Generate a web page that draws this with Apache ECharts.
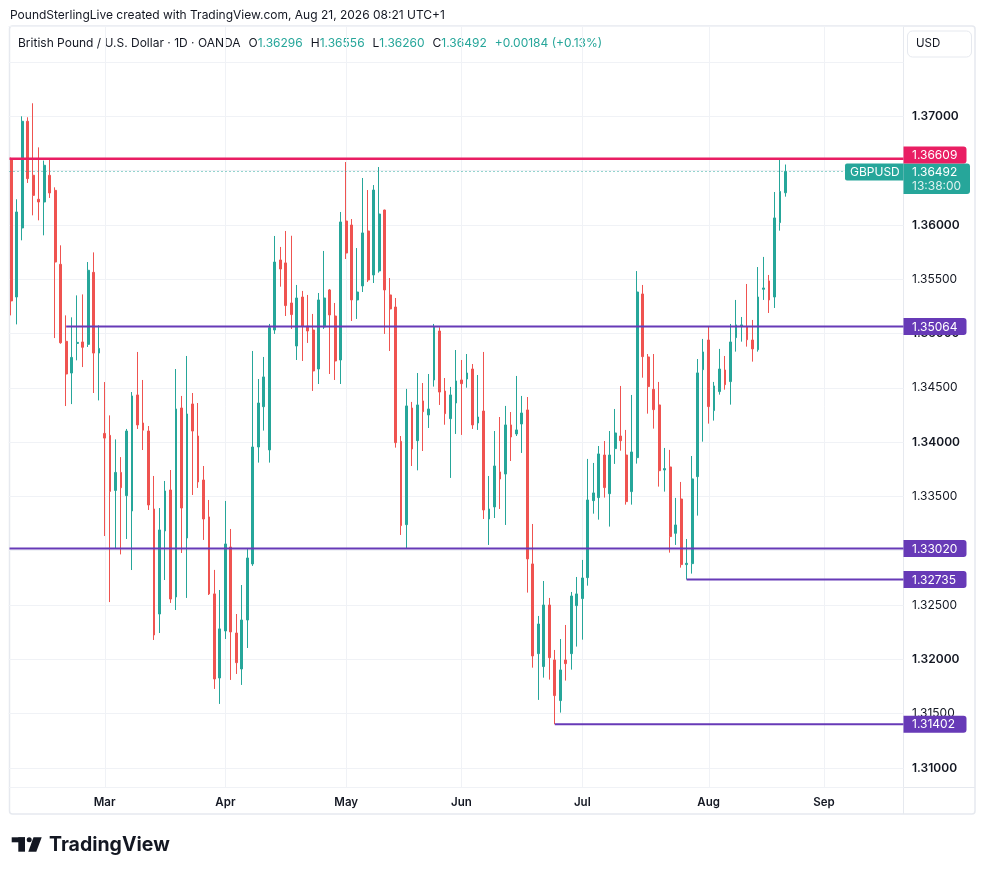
<!DOCTYPE html>
<html><head><meta charset="utf-8">
<script src="https://cdn.jsdelivr.net/npm/echarts@6/dist/echarts.min.js"></script>
<style>html,body{margin:0;padding:0;background:#fff}#c{width:985px;height:875px}</style>
</head><body><div id="c"></div>
<script>
// ---------------- data ----------------
const FIRST_DAY = '2026-02-05';   // first candle
const AXIS_DAYS = 163;            // trading days on the time axis (incl. empty future)
const OPENS = [1.36610,1.35336,1.35972,1.36954,1.36457,1.36236,1.36211,1.36457,1.36318,1.35637,
1.34928,1.34636,1.34909,1.34922,1.34900,1.35563,1.34820,1.34080,1.34062,1.33555,
1.33721,1.33507,1.33366,1.34434,1.34176,1.34102,1.33384,1.32417,1.33182,1.33559,
1.32574,1.34314,1.33117,1.34351,1.34056,1.33651,1.33311,1.32602,1.31828,1.32261,
1.33034,1.32242,1.31911,1.32362,1.32878,1.33955,1.34326,1.33928,1.35032,1.35677,
1.35650,1.35281,1.34885,1.35336,1.35069,1.35032,1.34673,1.35060,1.35401,1.35161,
1.34756,1.36036,1.35999,1.35309,1.35438,1.35944,1.35539,1.35576,1.36137,1.35355,
1.35244,1.34007,1.33240,1.34314,1.34013,1.34379,1.34250,1.34572,1.35023,1.34470,
1.34216,1.34360,1.34572,1.34581,1.34673,1.34176,1.34286,1.33292,1.33403,1.33725,
1.33706,1.34158,1.34075,1.34167,1.34296,1.32878,1.32052,1.31933,1.32500,1.31994,
1.31620,1.31994,1.32052,1.32494,1.32559,1.32752,1.33461,1.33489,1.33881,1.33525,
1.33940,1.34056,1.33881,1.33544,1.33857,1.35364,1.34784,1.34486,1.34342,1.33743,
1.33771,1.33160,1.33476,1.32872,1.32881,1.33682,1.34667,1.34940,1.34290,1.34465,
1.34664,1.34557,1.34962,1.35063,1.35063,1.34940,1.34851,1.35407,1.35484,1.35336,
1.36021,1.36296];
const CLOSES = [1.35300,1.36119,1.36954,1.36426,1.36272,1.36211,1.36549,1.36294,1.35658,1.34915,
1.34627,1.34780,1.34918,1.34873,1.35582,1.34820,1.34863,1.34037,1.33546,1.33721,
1.33580,1.34102,1.34425,1.34158,1.34110,1.33421,1.32224,1.33191,1.33550,1.32555,
1.34305,1.33393,1.34259,1.34102,1.33633,1.33292,1.32602,1.31819,1.32280,1.33062,
1.32252,1.31969,1.32362,1.32933,1.33955,1.34360,1.34600,1.35054,1.35658,1.35594,
1.35257,1.35174,1.35327,1.35069,1.35023,1.34655,1.35309,1.35327,1.35171,1.34747,
1.36027,1.35741,1.35309,1.35382,1.35926,1.35493,1.36321,1.36100,1.35401,1.35226,
1.33995,1.33231,1.34333,1.33937,1.34342,1.34280,1.34305,1.35063,1.34461,1.34262,
1.34434,1.34563,1.34538,1.34636,1.34158,1.34231,1.33375,1.33384,1.33780,1.33660,
1.34158,1.34047,1.34112,1.34268,1.32924,1.32031,1.32325,1.32500,1.32015,1.31666,
1.31902,1.31960,1.32583,1.32602,1.32749,1.33467,1.33532,1.33891,1.33581,1.33881,
1.34084,1.34013,1.33452,1.33909,1.35382,1.34787,1.34511,1.34299,1.33737,1.33756,
1.33130,1.33237,1.32872,1.32884,1.33661,1.34637,1.34830,1.34327,1.34517,1.34673,
1.34529,1.34922,1.35079,1.35079,1.34943,1.34858,1.35336,1.35419,1.35309,1.36064,
1.36308,1.36492];
const LOWS = [1.35167,1.35084,1.35858,1.36386,1.36088,1.36042,1.35904,1.36248,1.34958,1.34906,
1.34332,1.34350,1.34753,1.34691,1.34876,1.34452,1.34384,1.33135,1.32527,1.33018,
1.32966,1.33108,1.32822,1.34121,1.33927,1.33375,1.32178,1.32242,1.32730,1.32519,
1.32454,1.32979,1.32565,1.33513,1.33578,1.33099,1.32592,1.31727,1.31589,1.32187,
1.31810,1.31865,1.31764,1.32104,1.32860,1.33811,1.34106,1.33811,1.34996,1.35431,
1.35161,1.35042,1.34756,1.34747,1.34913,1.34471,1.34535,1.35042,1.34627,1.34572,
1.34535,1.35686,1.35115,1.35134,1.35382,1.35474,1.35465,1.35560,1.34996,1.34839,
1.33949,1.33145,1.33016,1.33780,1.33740,1.33918,1.34130,1.34511,1.34342,1.34160,
1.33670,1.34075,1.34066,1.34501,1.34121,1.34112,1.33292,1.33053,1.33301,1.33384,
1.33237,1.33826,1.34056,1.33900,1.32614,1.31923,1.31626,1.31831,1.31813,1.31402,
1.31509,1.31804,1.31905,1.32117,1.32181,1.32678,1.33341,1.33286,1.33489,1.33222,
1.33799,1.33921,1.33424,1.33424,1.33802,1.34593,1.34262,1.34124,1.33590,1.33544,
1.32982,1.33053,1.32844,1.32735,1.32789,1.33323,1.34004,1.34170,1.34198,1.34437,
1.34483,1.34345,1.34833,1.34925,1.34879,1.34741,1.34833,1.35309,1.35189,1.35235,
1.35947,1.36260];
const HIGHS = [1.36620,1.36236,1.37000,1.36991,1.37120,1.36714,1.36592,1.36609,1.36346,1.35812,
1.35167,1.35149,1.35351,1.35360,1.35658,1.35747,1.35075,1.34553,1.34246,1.34025,
1.33862,1.34121,1.34461,1.34830,1.34572,1.34148,1.33688,1.33393,1.33642,1.33743,
1.34673,1.34425,1.34793,1.34452,1.34360,1.33780,1.33467,1.32823,1.32638,1.33458,
1.33200,1.32417,1.32684,1.33016,1.34839,1.34581,1.34784,1.35088,1.35898,1.35797,
1.35944,1.35900,1.35447,1.35392,1.35355,1.35180,1.35373,1.35760,1.35410,1.35281,
1.36119,1.36579,1.36054,1.35787,1.36432,1.36321,1.36367,1.36533,1.36140,1.35511,
1.35327,1.34056,1.34490,1.34370,1.34636,1.34544,1.34627,1.35088,1.35057,1.34590,
1.34508,1.34848,1.34756,1.34811,1.34719,1.34618,1.34830,1.33688,1.34102,1.34231,
1.34333,1.34277,1.34609,1.34425,1.34415,1.33246,1.32399,1.32721,1.32565,1.32086,
1.32187,1.32316,1.32620,1.32758,1.32915,1.33845,1.33808,1.33964,1.34010,1.34102,
1.34305,1.34517,1.34112,1.34434,1.35575,1.35447,1.34811,1.34811,1.34554,1.33946,
1.33928,1.33486,1.33633,1.33108,1.33872,1.34765,1.34950,1.35060,1.34554,1.34858,
1.34793,1.35088,1.35309,1.35152,1.35456,1.35125,1.35612,1.35705,1.35539,1.36303,
1.36598,1.36556];
const LEVELS = [1.36609, 1.35064, 1.33020, 1.32735, 1.31402];
const LEVEL_FROM = ['2026-02-05','2026-02-19','2026-02-05','2026-07-28','2026-06-24'];
const Y_MIN = 1.308195, Y_MAX = 1.378315, Y_STEP = 0.005;
const MONTHS = ['Jan','Feb','Mar','Apr','May','Jun','Jul','Aug','Sep','Oct','Nov','Dec'];
const HEADER = 'PoundSterlingLive created with TradingView.com, Aug 21, 2026 08:21 UTC+1';
const INSTRUMENT = 'British Pound / U.S. Dollar · 1D · OANDA';
const SYMBOL = 'GBPUSD';
const COUNTDOWN = '13:38:00';
const CURRENCY = 'USD';

// ---------------- helpers ----------------
function tradingDays(first, n) {
  const out = []; const d = new Date(first + 'T00:00:00Z');
  while (out.length < n) {
    const w = d.getUTCDay();
    if (w !== 0 && w !== 6) out.push(d.toISOString().slice(0, 10));
    d.setUTCDate(d.getUTCDate() + 1);
  }
  return out;
}
const DATES = tradingDays(FIRST_DAY, AXIS_DAYS);
const MONTH_STARTS = [];
for (let i = 1; i < DATES.length; i++) if (DATES[i].slice(5, 7) !== DATES[i - 1].slice(5, 7)) MONTH_STARTS.push(i);
const MS_SET = new Set(MONTH_STARTS);
const CANDLES = OPENS.map((o, i) => [o, CLOSES[i], LOWS[i], HIGHS[i]]);
const LAST = OPENS.length - 1;
const LAST_CLOSE = CLOSES[LAST];

const FONT = 'Inter';
const INK = '#131722', UP = '#26a69a', DOWN = '#ef5350', RED = '#e91e63', PURPLE = '#673ab7';
const GRIDC = '#f0f2f6', FRAMEC = '#e6e9ef';
const FRAME_L = 9.5, FRAME_R = 975, FRAME_T = 26, FRAME_B = 814;

const chg = LAST_CLOSE - CLOSES[LAST - 1];
const sign = chg >= 0 ? '+' : '-';
const legendRich = '{d|' + INSTRUMENT + '}{sp|}' +
  '{d|O}{g|' + OPENS[LAST].toFixed(5) + '}{sp|}' +
  '{d|H}{g|' + HIGHS[LAST].toFixed(5) + '}{sp|}' +
  '{d|L}{g|' + LOWS[LAST].toFixed(5) + '}{sp|}' +
  '{d|C}{g|' + LAST_CLOSE.toFixed(5) + '}{sp|}' +
  '{g|' + sign + Math.abs(chg).toFixed(5) + ' (' + sign + (Math.abs(chg) / CLOSES[LAST - 1] * 100).toFixed(2) + '%)}';

const chart = echarts.init(document.getElementById('c'), null, { renderer: 'canvas', width: 985, height: 875 });

function lastBox(api) {
  const y = api.coord([LAST, LAST_CLOSE])[1];
  return { y: y, top: y - 8, bottom: y + 22.5 };
}

chart.setOption({
  animation: false,
  backgroundColor: '#ffffff',
  grid: { left: 8.5, top: FRAME_T, width: 895, height: 787.5 - FRAME_T, containLabel: false, outerBoundsMode: 'none' },
  xAxis: {
    type: 'category', data: DATES, boundaryGap: true,
    axisLine: { show: false }, axisTick: { show: false }, splitLine: { show: false },
    axisLabel: {
      interval: (i) => MS_SET.has(i),
      formatter: (v) => MONTHS[parseInt(v.slice(5, 7), 10) - 1],
      margin: 9, fontSize: 11.5, fontWeight: 600, color: INK, fontFamily: FONT
    }
  },
  yAxis: {
    type: 'value', position: 'right', min: Y_MIN, max: Y_MAX,
    minInterval: Y_STEP, maxInterval: Y_STEP, splitNumber: 14, scale: true,
    axisLine: { show: false }, axisTick: { show: false },
    splitLine: { lineStyle: { color: GRIDC, width: 1 } },
    axisLabel: {
      margin: 8.5, showMinLabel: false, showMaxLabel: false, align: 'left',
      formatter: (v) => {
        if (v > 1.372) return '';
        const major = Math.abs(Math.round(v * 100) - v * 100) < 1e-6;
        return (major ? '{b|' : '{n|') + v.toFixed(5) + '}';
      },
      rich: {
        b: { fontSize: 12, fontWeight: 600, color: INK, fontFamily: FONT },
        n: { fontSize: 12, fontWeight: 400, color: INK, fontFamily: FONT }
      }
    }
  },
  series: [
    { // month grid lines
      type: 'custom', z: 1, silent: true,
      data: MONTH_STARTS.map(i => [i, Y_MIN]),
      renderItem: (params, api) => {
        const cs = params.coordSys;
        const x = Math.round(api.coord([api.value(0), api.value(1)])[0]) + 0.5;
        return { type: 'line', shape: { x1: x, y1: cs.y, x2: x, y2: cs.y + cs.height }, style: { stroke: GRIDC, lineWidth: 1 } };
      }
    },
    {
      type: 'candlestick', z: 2, barWidth: 2.3,
      data: CANDLES,
      itemStyle: { color: UP, color0: DOWN, borderColor: UP, borderColor0: DOWN, borderWidth: 1 }
    },
    { // last price line + labels
      type: 'custom', z: 3, silent: true,
      data: [[LAST, LAST_CLOSE]],
      renderItem: (params, api) => {
        const cs = params.coordSys; const right = cs.x + cs.width;
        const lb = lastBox(api);
        return { type: 'group', children: [
          { type: 'line', shape: { x1: FRAME_L, y1: lb.y, x2: right, y2: lb.y }, style: { stroke: UP, lineWidth: 1, lineDash: [1, 3] } },
          { type: 'rect', shape: { x: 845, y: lb.top, width: right - 845, height: 17, r: [2, 0, 0, 2] }, style: { fill: UP } },
          { type: 'text', x: 850, y: lb.top + 8.5, style: { text: SYMBOL, fill: '#fff', fontSize: 12, fontFamily: FONT, align: 'left', verticalAlign: 'middle' } },
          { type: 'rect', shape: { x: right, y: lb.top, width: 66.5, height: lb.bottom - lb.top, r: [0, 3, 3, 0] }, style: { fill: UP } },
          { type: 'text', x: right + 8.5, y: lb.y + 0.5, style: { text: LAST_CLOSE.toFixed(5), fill: '#fff', fontSize: 12, fontFamily: FONT, align: 'left', verticalAlign: 'middle' } },
          { type: 'text', x: right + 8.5, y: lb.y + 15, style: { text: COUNTDOWN, fill: 'rgba(255,255,255,0.85)', fontSize: 12, fontFamily: FONT, align: 'left', verticalAlign: 'middle' } }
        ] };
      }
    },
    { // support / resistance levels
      type: 'custom', z: 4, silent: true,
      data: LEVELS.map((v, k) => [LEVEL_FROM[k], v, k]),
      renderItem: (params, api) => {
        const cs = params.coordSys; const right = cs.x + cs.width;
        const k = api.value(2);
        const p = api.coord([api.value(0), api.value(1)]);
        const x0 = api.value(0) === 0 ? FRAME_L : p[0];
        const color = k === 0 ? RED : PURPLE;
        const lb = lastBox(api);
        let by = p[1] - 8.5;
        if (by + 17 > lb.top && by < lb.bottom) by = lb.top - 17;
        return { type: 'group', children: [
          { type: 'line', shape: { x1: x0, y1: p[1], x2: right, y2: p[1] }, style: { stroke: color, lineWidth: k === 0 ? 2.5 : 2 } },
          { type: 'rect', shape: { x: right, y: by, width: 63, height: 17, r: [0, 3, 3, 0] }, style: { fill: color } },
          { type: 'text', x: right + 8.5, y: by + 9, style: { text: LEVELS[k].toFixed(5), fill: '#fff', fontSize: 12, fontFamily: FONT, align: 'left', verticalAlign: 'middle' } }
        ] };
      }
    }
  ],
  graphic: [
    { type: 'rect', z: 0, silent: true, shape: { x: FRAME_L, y: FRAME_T, width: FRAME_R - FRAME_L, height: FRAME_B - FRAME_T, r: 3 }, style: { fill: 'none', stroke: FRAMEC, lineWidth: 1.5 } },
    { type: 'line', z: 0, silent: true, shape: { x1: 903.5, y1: FRAME_T, x2: 903.5, y2: FRAME_B }, style: { stroke: FRAMEC, lineWidth: 1 } },
    { type: 'line', z: 0, silent: true, shape: { x1: FRAME_L, y1: 787.5, x2: FRAME_R, y2: 787.5 }, style: { stroke: FRAMEC, lineWidth: 1 } },
    { type: 'text', x: 10, y: 15.5, style: { text: HEADER, fill: INK, fontSize: 12, fontFamily: FONT, verticalAlign: 'middle' } },
    { type: 'text', x: 18, y: 43, style: { text: legendRich, verticalAlign: 'middle',
        rich: {
          d: { fill: INK, color: INK, fontSize: 12, fontFamily: FONT },
          g: { fill: UP, color: UP, fontSize: 12, fontFamily: FONT },
          sp: { width: 8 }
        } } },
    { type: 'rect', silent: true, shape: { x: 907.5, y: 31, width: 64, height: 26, r: 5 }, style: { fill: '#fff', stroke: FRAMEC, lineWidth: 1 } },
    { type: 'text', x: 916, y: 44, style: { text: CURRENCY, fill: INK, fontSize: 11.5, fontFamily: FONT, verticalAlign: 'middle' } },
    // TradingView logo
    { type: 'rect', shape: { x: 11.7, y: 837.3, width: 13.3, height: 5 }, style: { fill: INK } },
    { type: 'rect', shape: { x: 18.3, y: 837.3, width: 6.7, height: 14.4 }, style: { fill: INK } },
    { type: 'circle', shape: { cx: 29.2, cy: 839.8, r: 2.5 }, style: { fill: INK } },
    { type: 'polygon', shape: { points: [[33.5, 837.3], [41.7, 837.3], [36.3, 851.7], [28.3, 851.7]] }, style: { fill: INK } },
    { type: 'text', x: 49, y: 845, style: { text: 'TradingView', fill: INK, fontSize: 19.5, fontWeight: 700, fontFamily: FONT, verticalAlign: 'middle' } }
  ]
});
</script>
</body></html>
